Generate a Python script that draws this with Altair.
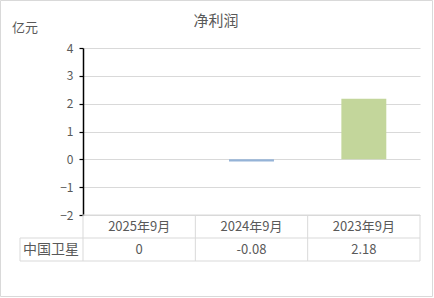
import altair as alt
import pandas as pd

categories = ["2025年9月", "2024年9月", "2023年9月"]
values = [0, -0.08, 2.18]
value_labels = ["0", "-0.08", "2.18"]
series_name = "中国卫星"
bar_colors = ["#4f81bd", "#95b3d7", "#c3d69b"]
y_ticks = [-2, -1, 0, 1, 2, 3, 4]
title_text = "净利润"
unit_text = "亿元"

W, H = 337, 167
ROW = 23
FONT = "Noto Sans CJK SC"
GREY = "#595959"
LINE = "#d9d9d9"

df = pd.DataFrame({"cat": categories, "value": values, "label": value_labels})
one = alt.Data(values=[{"k": 1}])

xenc = alt.X("cat:N", sort=categories,
             scale=alt.Scale(paddingInner=0, paddingOuter=0), axis=None)

base = alt.Chart(df)

border = alt.Chart(one).mark_rect(filled=False, stroke=LINE, strokeWidth=1).encode(
    x=alt.value(-82.5), x2=alt.value(W + 12.5),
    y=alt.value(-47.5), y2=alt.value(H + 81.5))

bars = base.mark_bar(width={"band": 0.4}).encode(
    x=xenc,
    y=alt.Y("value:Q", scale=alt.Scale(domain=[-2, 4], nice=False, zero=False),
            axis=alt.Axis(values=y_ticks, title=None, grid=True, gridColor=LINE,
                          domainColor="black", domainWidth=1.5,
                          tickColor="black", tickSize=4, tickWidth=1.2,
                          labelColor=GREY, labelFontSize=12, labelFont=FONT,
                          labelPadding=6, format="d")),
    color=alt.Color("cat:N", sort=categories,
                    scale=alt.Scale(domain=categories, range=bar_colors), legend=None),
)

hlines = alt.Chart(alt.Data(values=[{"y": H + ROW, "x": -63}, {"y": H + 2 * ROW, "x": -63},
                                    {"y": H, "x": 0}])).mark_rule(color=LINE).encode(
    x=alt.X("x:Q", scale=None), x2=alt.value(W),
    y=alt.Y("y:Q", scale=None))

vsep = base.mark_rule(color=LINE).encode(
    x=alt.X("cat:N", sort=categories, bandPosition=0,
            scale=alt.Scale(paddingInner=0, paddingOuter=0), axis=None),
    y=alt.value(H), y2=alt.value(H + 2 * ROW))

vedges = alt.Chart(alt.Data(values=[{"x": W, "y": H}, {"x": -63, "y": H + ROW}])).mark_rule(color=LINE).encode(
    x=alt.X("x:Q", scale=None), y=alt.Y("y:Q", scale=None), y2=alt.value(H + 2 * ROW))

cat_text = base.mark_text(font=FONT, fontSize=13, color=GREY, baseline="middle").encode(
    x=xenc, y=alt.value(H + ROW / 2 + 0.5), text="cat:N")

val_text = base.mark_text(font=FONT, fontSize=13, color=GREY, baseline="middle").encode(
    x=xenc, y=alt.value(H + ROW * 1.5 + 0.5), text="label:N")

row_label = alt.Chart(one).mark_text(font=FONT, fontSize=14, color=GREY, baseline="middle").encode(
    x=alt.value(-32), y=alt.value(H + ROW * 1.5 + 0.5), text=alt.value(series_name))

title = alt.Chart(one).mark_text(font=FONT, fontSize=15, color=GREY, baseline="middle").encode(
    x=alt.value(133), y=alt.value(-27), text=alt.value(title_text))

unit = alt.Chart(one).mark_text(font=FONT, fontSize=13, color=GREY, baseline="middle").encode(
    x=alt.value(-58), y=alt.value(-20), text=alt.value(unit_text))

chart = alt.layer(border, bars, hlines, vsep, vedges, cat_text, val_text, row_label, title, unit).properties(
    width=W, height=H,
    autosize=alt.AutoSizeParams(type="none"),
    padding={"left": 83, "top": 48, "right": 14, "bottom": 83},
    background="white",
).configure_view(stroke=None)

chart.save("out.html", embed_options={"renderer": "svg", "actions": False})
